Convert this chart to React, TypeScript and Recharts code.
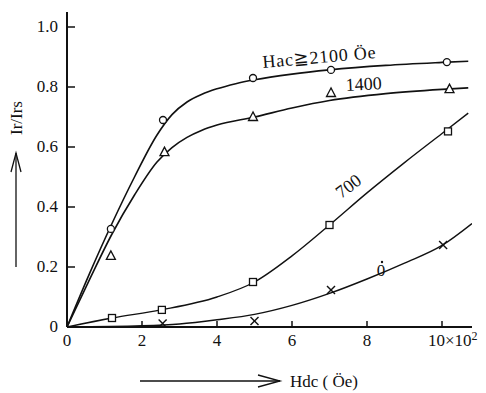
import { ComposedChart, Line, Scatter, XAxis, YAxis } from "recharts";

// measured points (Hdc in 10^2 Oe, Ir/Irs)
const hac2100Points = [
  { x: 1.17, y: 0.327 },
  { x: 2.56, y: 0.69 },
  { x: 4.96, y: 0.83 },
  { x: 7.04, y: 0.857 },
  { x: 10.13, y: 0.883 },
];
const hac1400Points = [
  { x: 1.17, y: 0.237 },
  { x: 2.6, y: 0.583 },
  { x: 4.96, y: 0.7 },
  { x: 7.04, y: 0.78 },
  { x: 10.2, y: 0.793 },
];
const hac700Points = [
  { x: 1.2, y: 0.03 },
  { x: 2.53, y: 0.057 },
  { x: 4.96, y: 0.15 },
  { x: 7.0, y: 0.34 },
  { x: 10.16, y: 0.652 },
];
const hac0Points = [
  { x: 2.55, y: 0.012 },
  { x: 5.0, y: 0.02 },
  { x: 7.04, y: 0.123 },
  { x: 10.03, y: 0.273 },
];

// hand drawn fitted curves
const fit2100 = [
  { x: 0, y: 0 },
  { x: 0.6, y: 0.178 },
  { x: 1.2, y: 0.345 },
  { x: 1.8, y: 0.5 },
  { x: 2.4, y: 0.64 },
  { x: 2.8, y: 0.708 },
  { x: 3.2, y: 0.75 },
  { x: 3.6, y: 0.776 },
  { x: 4.0, y: 0.794 },
  { x: 4.5, y: 0.811 },
  { x: 5.0, y: 0.824 },
  { x: 6.0, y: 0.843 },
  { x: 7.0, y: 0.857 },
  { x: 8.5, y: 0.872 },
  { x: 10.0, y: 0.882 },
  { x: 10.7, y: 0.886 },
];
const fit1400 = [
  { x: 0, y: 0 },
  { x: 0.6, y: 0.158 },
  { x: 1.2, y: 0.31 },
  { x: 1.8, y: 0.44 },
  { x: 2.4, y: 0.55 },
  { x: 2.8, y: 0.598 },
  { x: 3.2, y: 0.632 },
  { x: 3.6, y: 0.656 },
  { x: 4.0, y: 0.673 },
  { x: 5.0, y: 0.7 },
  { x: 6.0, y: 0.73 },
  { x: 7.0, y: 0.755 },
  { x: 8.5, y: 0.778 },
  { x: 10.0, y: 0.792 },
  { x: 10.7, y: 0.797 },
];
const fit700 = [
  { x: 0, y: 0 },
  { x: 1.2, y: 0.03 },
  { x: 2.5, y: 0.057 },
  { x: 4.0, y: 0.1 },
  { x: 5.0, y: 0.15 },
  { x: 6.0, y: 0.237 },
  { x: 7.0, y: 0.34 },
  { x: 8.0, y: 0.447 },
  { x: 9.0, y: 0.548 },
  { x: 10.0, y: 0.645 },
  { x: 10.7, y: 0.713 },
];
const fit0 = [
  { x: 0, y: 0 },
  { x: 2.0, y: 0.004 },
  { x: 3.0, y: 0.01 },
  { x: 4.0, y: 0.024 },
  { x: 5.0, y: 0.042 },
  { x: 6.0, y: 0.072 },
  { x: 7.0, y: 0.112 },
  { x: 8.0, y: 0.16 },
  { x: 9.0, y: 0.213 },
  { x: 10.0, y: 0.272 },
  { x: 10.8, y: 0.345 },
];

const xTicks = [0, 2, 4, 6, 8, 10];
const yTicks = [0, 0.2, 0.4, 0.6, 0.8, 1.0];

const ink = "#111";
const font = "'Liberation Serif', 'DejaVu Serif', serif";
const txt = { fontFamily: font };

const Circle = ({ cx, cy }: any) => (
  <circle cx={cx} cy={cy} r={3.5} fill="#fff" stroke={ink} strokeWidth={1.3} />
);
const Triangle = ({ cx, cy }: any) => (
  <polygon
    points={`${cx},${cy - 5} ${cx - 4.5},${cy + 3.5} ${cx + 4.5},${cy + 3.5}`}
    fill="#fff"
    stroke={ink}
    strokeWidth={1.3}
  />
);
const Square = ({ cx, cy }: any) => (
  <rect x={cx - 3.5} y={cy - 3.5} width={7} height={7} fill="#fff" stroke={ink} strokeWidth={1.3} />
);
const Cross = ({ cx, cy }: any) => (
  <g stroke={ink} strokeWidth={1.4}>
    <line x1={cx - 4} y1={cy - 4} x2={cx + 4} y2={cy + 4} />
    <line x1={cx - 4} y1={cy + 4} x2={cx + 4} y2={cy - 4} />
  </g>
);

const YTick = ({ x, y, payload }: any) => (
  <g>
    {payload.value !== 0 && <line x1={x} x2={x + 8} y1={y} y2={y} stroke={ink} strokeWidth={1.5} />}
    <text x={x - 9} y={y} dy={5} textAnchor="end" fontSize={17} style={txt} fill={ink}>
      {payload.value === 0 ? "0" : payload.value.toFixed(1)}
    </text>
  </g>
);

const XTick = ({ x, y, payload }: any) => (
  <g>
    {payload.value !== 0 && <line x1={x} x2={x} y1={y} y2={y - 6} stroke={ink} strokeWidth={1.5} />}
    {payload.value === 10 ? (
      <text x={x - 14} y={y + 19} textAnchor="start" fontSize={17} style={txt} fill={ink}>
        10×10<tspan dy={-6} fontSize={12}>2</tspan>
      </text>
    ) : (
      <text x={x} y={y + 19} textAnchor="middle" fontSize={17} style={txt} fill={ink}>
        {payload.value}
      </text>
    )}
  </g>
);

export default function App() {
  return (
    <div style={{ position: "absolute", left: 0, top: 0, width: 486, height: 393, background: "#fff", fontFamily: font }}>
      <ComposedChart width={486} height={393} margin={{ top: 12, right: 14, bottom: 36, left: 0 }}>
        <XAxis
          type="number"
          dataKey="x"
          domain={[0, 10.8]}
          ticks={xTicks}
          tick={<XTick />}
          tickLine={false}
          tickSize={0}
          tickMargin={0}
          height={30}
          axisLine={{ stroke: ink, strokeWidth: 2 }}
          allowDataOverflow
        />
        <YAxis
          type="number"
          dataKey="y"
          domain={[0, 1.05]}
          ticks={yTicks}
          tick={<YTick />}
          tickLine={false}
          tickSize={0}
          tickMargin={0}
          width={67}
          axisLine={{ stroke: ink, strokeWidth: 2 }}
          allowDataOverflow
        />
        <Line data={fit2100} dataKey="y" type="monotone" stroke={ink} strokeWidth={1.6} dot={false} isAnimationActive={false} />
        <Line data={fit1400} dataKey="y" type="monotone" stroke={ink} strokeWidth={1.6} dot={false} isAnimationActive={false} />
        <Line data={fit700} dataKey="y" type="monotone" stroke={ink} strokeWidth={1.4} dot={false} isAnimationActive={false} />
        <Line data={fit0} dataKey="y" type="monotone" stroke={ink} strokeWidth={1.4} dot={false} isAnimationActive={false} />
        <Scatter data={hac2100Points} dataKey="y" shape={<Circle />} isAnimationActive={false} />
        <Scatter data={hac1400Points} dataKey="y" shape={<Triangle />} isAnimationActive={false} />
        <Scatter data={hac700Points} dataKey="y" shape={<Square />} isAnimationActive={false} />
        <Scatter data={hac0Points} dataKey="y" shape={<Cross />} isAnimationActive={false} />
      </ComposedChart>
      <svg
        width={486}
        height={393}
        style={{ position: "absolute", left: 0, top: 0, pointerEvents: "none", fontFamily: font }}
        fill={ink}
      >
        <text x={263} y={68} fontSize={18} letterSpacing={0.8} transform="rotate(-5 263 68)">
          Hac≧2100 Öe
        </text>
        <text x={346} y={91} fontSize={18} transform="rotate(-3 346 91)">
          1400
        </text>
        <text x={352} y={191} fontSize={18} textAnchor="middle" transform="rotate(-37 352 191)">
          700
        </text>
        <text x={381} y={276} fontSize={17} textAnchor="middle">
          0
        </text>
        <circle cx={382} cy={262} r={1.2} fill={ink} />
        <text x={22} y={118} fontSize={17} textAnchor="middle" transform="rotate(-90 22 118)">
          Ir/Irs
        </text>
        <g stroke={ink} strokeWidth={1.3} fill="none">
          <line x1={16} y1={267} x2={16} y2={153} />
          <polyline points="11,172 16,153 21,172" />
          <line x1={140} y1={381} x2={280} y2={381} />
          <polyline points="258,375 280,381 258,387" />
        </g>
        <text x={290} y={387} fontSize={17}>
          Hdc ( Öe)
        </text>
      </svg>
    </div>
  );
}
